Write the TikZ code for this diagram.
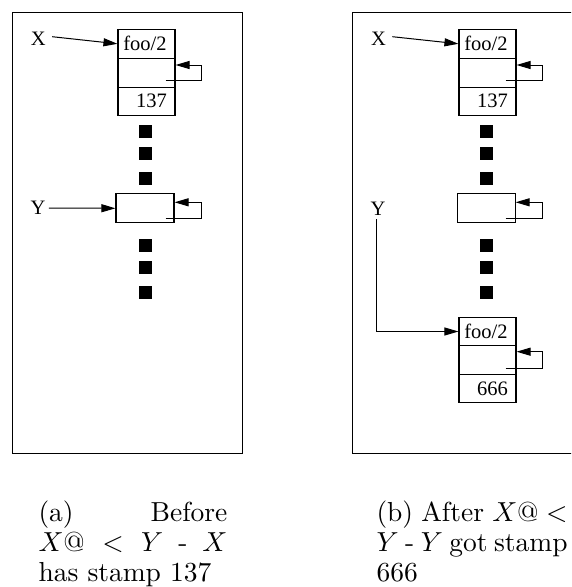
\documentclass[tikz,border=0pt]{standalone}
\usepackage{fontspec}
\usepackage{graphicx}
\usetikzlibrary{arrows.meta}
\newfontfamily\lblfont{Liberation Serif}

\begin{document}
\begin{tikzpicture}[x=1pt,y=-1pt,
  line width=1pt,
  panel/.style={draw, line width=1pt},
  cell/.style={draw, line width=1.1pt, minimum width=57pt, minimum height=29pt,
    inner sep=0pt, font=\lblfont\fontsize{20.5}{20.5}\selectfont},
  lbl/.style={inner sep=0pt, font=\lblfont\fontsize{20.5}{20.5}\selectfont},
  dotsq/.style={fill=black, minimum size=13pt, inner sep=0pt},
  ptr/.style={-{Triangle[length=14pt,width=8pt]}, line width=1pt},
  capline/.style={anchor=base west, inner sep=0pt}
]
\useasboundingbox (0,0) rectangle (571,587);
\clip (0,0) rectangle (571,587);
\fill[white] (0,0) rectangle (571,587);

% ---------- left panel: before ----------
\draw[panel] (12,12) rectangle (242,453.3);

\node[cell] (la) at (146.5,43.8) {\hspace*{-3pt}foo/2};
\node[cell] (lb) at (146.5,72.8) {};
\node[cell, minimum height=27.7pt] (lc) at (146.5,101.2) {\hspace*{10pt}137};
\coordinate (lbs) at (165.7,80.3);
\draw[ptr] (lbs) -- ++(36,0) -- ++(0,-15.3) -- (lb.east |- 0,65);

\node[lbl] (lx) at (38.3,38.7) {X};
\draw[ptr] ([shift={(6,-2)}]lx.east) -- (la.west);

\node[dotsq] (ld1) at (145.7,131) {};
\node[dotsq] (ld2) at (145.7,153.7) {};
\node[dotsq] (ld3) at (145.7,178.7) {};

\node[cell, minimum width=58pt] (lyb) at (145,208.3) {};
\coordinate (lys) at (165.7,218.3);
\draw[ptr] (lys) -- ++(36,0) -- ++(0,-16) -- (lyb.east |- 0,202.3);

\node[lbl] (ly) at (38,208) {Y};
\draw[ptr] ([xshift=3pt]ly.east) -- (lyb.west);

\node[dotsq] (ld4) at (145.7,245) {};
\node[dotsq] (ld5) at (145.7,267.7) {};
\node[dotsq] (ld6) at (145.7,292) {};

% ---------- right panel: after ----------
\draw[panel] (352,12) rectangle (600,453.3);

\node[cell] (ra) at (487.5,43.8) {\hspace*{-3pt}foo/2};
\node[cell] (rb) at (487.5,72.8) {};
\node[cell, minimum height=27.7pt] (rc) at (487.5,101.2) {\hspace*{10pt}137};
\coordinate (rbs) at (505.7,80.3);
\draw[ptr] (rbs) -- ++(36.6,0) -- ++(0,-15.3) -- (rb.east |- 0,65);

\node[lbl] (rx) at (378.5,38.7) {X};
\draw[ptr] ([shift={(6,-2)}]rx.east) -- (ra.west);

\node[dotsq] (rd1) at (486,131) {};
\node[dotsq] (rd2) at (486,153.7) {};
\node[dotsq] (rd3) at (486,178.7) {};

\node[cell, minimum width=57.7pt] (ryb) at (486.2,208.3) {};
\coordinate (rys) at (505.7,218.3);
\draw[ptr] (rys) -- ++(36.6,0) -- ++(0,-16) -- (ryb.east |- 0,202.3);

\node[dotsq] (rd4) at (486,245) {};
\node[dotsq] (rd5) at (486,267.7) {};
\node[dotsq] (rd6) at (486,292) {};

\node[cell, minimum height=28.4pt] (rd) at (487.5,331.5) {\hspace*{-3pt}foo/2};
\node[cell, minimum height=28.6pt] (re) at (487.5,360) {};
\node[cell, minimum height=28.3pt] (rf) at (487.5,388.5) {\hspace*{10pt}666};
\coordinate (res) at (505.7,368.3);
\draw[ptr] (res) -- ++(36.6,0) -- ++(0,-16.6) -- (re.east |- 0,351.7);

\node[lbl] (ry) at (378,209) {Y};
\draw[ptr] ([shift={(-2,3)}]ry.south) |- (rd.west);

% ---------- captions ----------
\node[capline] (ca1) at (38,521) {\scalebox{2.75}{\makebox[68.7pt][s]{(a) Before}}};
\node[capline] (ca2) at (38,551) {\scalebox{2.75}{\makebox[68.7pt][s]{$X@ < Y$ - $X$}}};
\node[capline] (ca3) at (38,581) {\scalebox{2.75}{has stamp 137}};

\node[capline] (cb1) at (376,521) {\scalebox{2.75}{\makebox[69.5pt][s]{(b) After $X@ <$}}};
\node[capline] (cb2) at (376,551) {\scalebox{2.75}{\makebox[69.5pt][s]{$Y$ - $Y$ got stamp}}};
\node[capline] (cb3) at (376,581) {\scalebox{2.75}{666}};
\end{tikzpicture}
\end{document}
